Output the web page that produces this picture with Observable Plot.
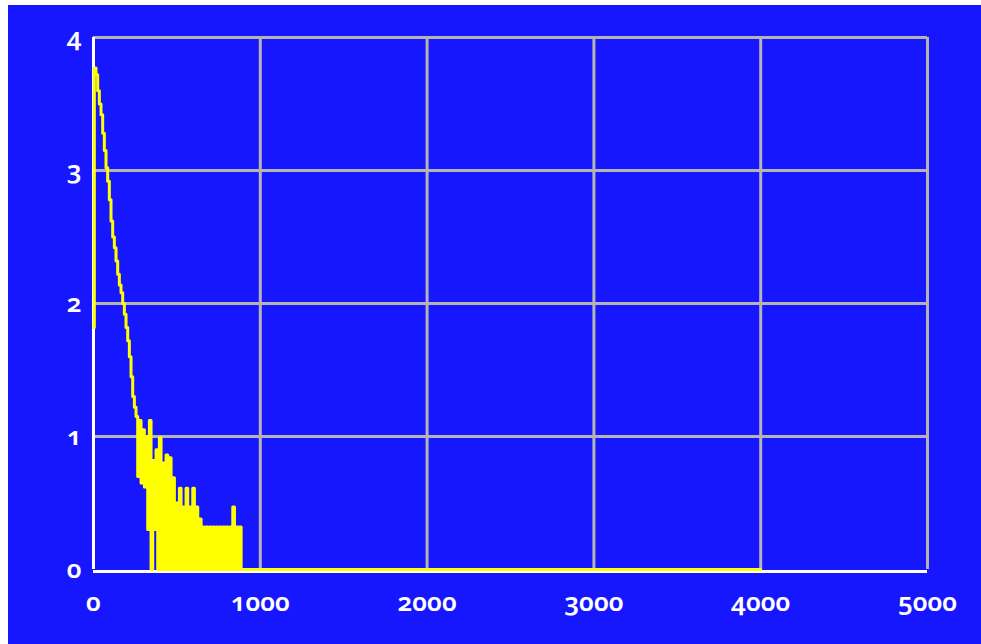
<!DOCTYPE html>
<html><head><meta charset="utf-8">
<script src="https://cdn.jsdelivr.net/npm/d3@7"></script>
<script src="https://cdn.jsdelivr.net/npm/@observablehq/plot@0.6"></script>
<style>
html,body{margin:0;padding:0;background:#fff;}
#chart{position:absolute;left:8px;top:5px;}
#chart svg{display:block;}
</style></head><body><div id="chart"></div>
<script>
const binX = [0,10,20,30,40,50,60,70,80,90,100,110,120,130,140,150,160,170,180,190,200,210,220,230,240,250,260,270,280,290,300,310,320,330,340,350,360,370,380,390,400,410,420,430,440,450,460,470,480,490,500,510,520,530,540,550,560,570,580,590,600,610,620,630,640,650,660,670,680,690,700,710,720,730,740,750,760,770,780,790,800,810,820,830,840,850,860,870,880,890,4000];
const binY = [1.82,3.77,3.72,3.60,3.50,3.42,3.28,3.15,3.02,2.92,2.78,2.62,2.50,2.42,2.32,2.22,2.14,2.08,2.00,1.92,1.82,1.72,1.60,1.45,1.30,1.22,1.15,0.70,1.12,0.65,1.05,0.62,1.00,0.30,1.12,0.00,0.82,0.30,0.90,0.00,0.99,0.00,0.80,0.00,0.86,0.00,0.84,0.00,0.69,0.00,0.50,0.00,0.61,0.00,0.47,0.00,0.61,0.00,0.47,0.00,0.61,0.00,0.47,0.00,0.38,0.00,0.32,0.00,0.32,0.00,0.32,0.00,0.32,0.00,0.32,0.00,0.32,0.00,0.32,0.00,0.32,0.00,0.32,0.00,0.47,0.00,0.32,0.00,0.32,0.00,0.00];
const xTicks = [0,1000,2000,3000,4000,5000];
const yTicks = [0,1,2,3,4];

const data = binX.map((x, i) => ({x, y: binY[i]}));
const grid = "#b4b4b4";
const plot = Plot.plot({
  width: 973, height: 639,
  marginLeft: 85, marginTop: 32, marginRight: 54, marginBottom: 75,
  style: {background: "#1717ff", color: "white", fontFamily: "'Noto Sans', Lato, sans-serif", fontSize: "26px", fontWeight: "600", fontVariantNumeric: "oldstyle-nums", fontFeatureSettings: "'onum' 1"},
  x: {domain: [0, 5000], label: null},
  y: {domain: [0, 4], label: null},
  marks: [
    Plot.gridX(xTicks.slice(1), {stroke: grid, strokeOpacity: 1, strokeWidth: 3}),
    Plot.gridY(yTicks.slice(1), {stroke: grid, strokeOpacity: 1, strokeWidth: 3}),
    Plot.ruleX([0], {stroke: "white", strokeWidth: 3}),
    Plot.ruleY([0], {stroke: "white", strokeWidth: 3, dy: 2}),
    Plot.lineY(data, {x: "x", y: "y", curve: "step", stroke: "#ffff00", strokeWidth: 3}),
    Plot.axisX(xTicks, {tickSize: 0, tickPadding: 23, fill: "white", label: null, tickFormat: d3.format("d")}),
    Plot.axisY(yTicks, {tickSize: 0, tickPadding: 12, fill: "white", label: null, tickFormat: d3.format("d")})
  ]
});
document.getElementById("chart").appendChild(plot);
</script></body></html>
